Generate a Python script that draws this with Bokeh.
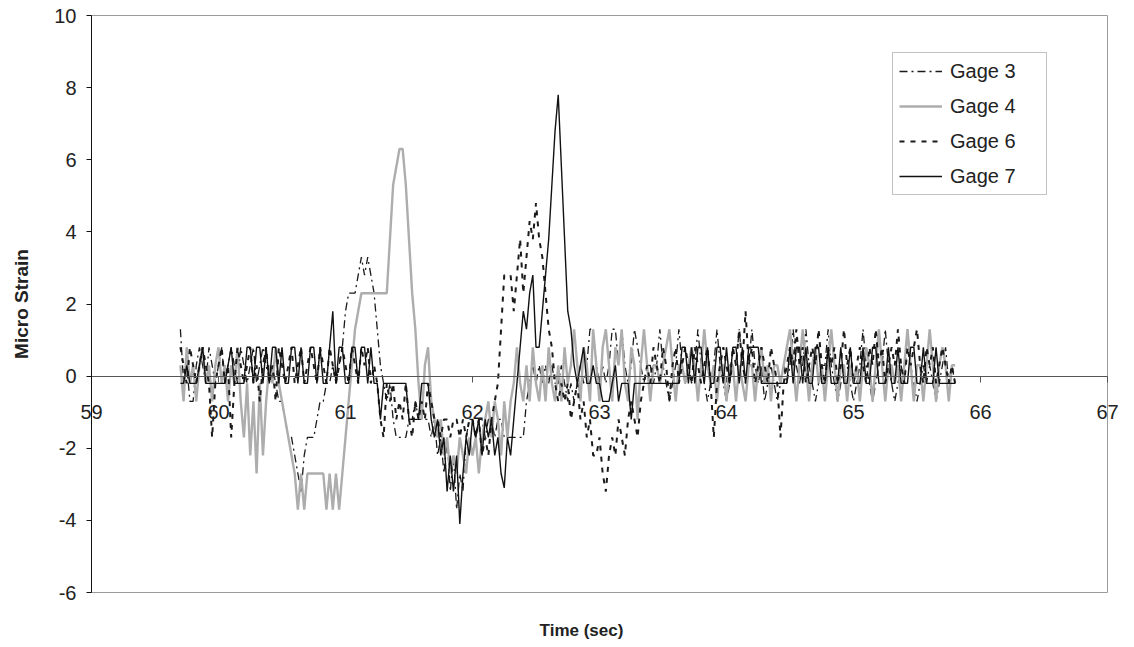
import numpy as np
from bokeh.plotting import figure
from bokeh.models import Legend, LegendItem, FixedTicker, Label, Range1d
from bokeh.embed import file_html
from bokeh.resources import INLINE

# ---- data ----
t_start = 59.7
t_step = 0.025

gage3 = [
    1.3, -0.2, 0.3, -0.7, -0.7, 0.3, 0.8, 0.3, -0.2, 0.8,
    0.3, -0.2, 0.3, 0.8, -0.2, 0.3, 0.8, 0.3, -0.2, 0.8,
    0.3, -0.2, 0.3, 0.8, -0.2, 0.3, 0.8, 0.3, -0.2, 0.3,
    -0.2, -0.7, -0.7, -1.2, -1.7, -1.7, -2.2, -2.7, -3.2, -2.2,
    -1.7, -1.7, -1.7, -1.2, -0.7, -0.7, -0.2, -0.2, 0.3, -0.2,
    0.3, 0.8, 1.8, 2.3, 2.3, 2.3, 2.8, 3.3, 2.8, 3.3,
    2.8, 2.3, 1.3, 0.3, -0.2, -0.7, -0.2, -1.2, -1.7, -1.7,
    -1.7, -1.7, -1.2, -1.2, -0.7, -1.2, -1.2, -1.2, -1.2, -1.7,
    -1.2, -2.2, -1.7, -2.7, -1.7, -3.2, -2.2, -3.7, -2.7, -3.2,
    -1.7, -1.2, -1.2, -1.7, -1.2, -1.2, -1.7, -1.2, -1.2, -1.7,
    -1.2, -1.2, -1.7, -1.7, -1.7, -1.7, -1.7, -1.7, -1.7, -0.7,
    -0.2, 0.3, -0.2, 0.3, -0.2, 0.3, -0.2, 0.3, -0.2, -0.2,
    0.3, -0.2, -0.7, -0.2, -0.7, -0.2, 0.3, -0.2, 0.3, 1.3,
    1.3, 0.3, -0.2, 0.3, -0.2, 0.3, 1.3, 1.3, 0.3, 1.3,
    0.3, -0.2, 0.3, 1.3, 0.8, 0.3, -0.2, 0.3, 0.3, -0.2,
    0.3, 1.3, 0.3, -0.2, -0.7, -0.2, 0.3, 1.3, 0.3, -0.2,
    0.3, -0.2, 0.3, 1.3, 0.3, -0.2, -0.7, -0.2, 0.3, 1.3,
    0.3, -0.2, -0.7, -0.2, 0.3, 0.3, 1.3, 0.3, -0.2, 0.3,
    1.3, 0.3, -0.2, 0.3, -0.7, -0.2, 0.3, -0.2, -0.7, -0.2,
    0.3, -0.2, 0.3, 1.3, 0.3, -0.2, 0.3, 1.3, 0.3, -0.2,
    -0.7, -0.2, 0.3, 0.3, 1.3, 0.3, -0.2, -0.7, -0.2, 0.3,
    0.3, -0.2, -0.7, -0.2, 0.3, 1.3, 0.3, -0.2, -0.7, -0.2,
    0.3, 0.3, 1.3, 0.3, -0.2, -0.7, -0.2, 0.3, -0.2, 1.3,
    0.3, -0.2, -0.7, -0.2, 0.3, -0.2, 0.3, -0.2, -0.7, -0.2,
    0.3, 0.8, -0.2, 0.3, -0.2,
]

gage4 = [
    0.3, -0.7, 0.8, -0.2, 0.3, -0.7, 0.3, 0.8, -0.2, 0.3,
    -0.7, 0.3, 0.8, -0.2, 0.3, -0.7, 0.3, -0.2, 0.8, -0.7,
    -1.7, -0.2, -2.2, -0.7, -2.7, -0.2, -2.2, -0.7, 0.3, -0.2,
    0.8, -0.2, -0.7, -1.2, -1.7, -2.2, -2.7, -3.7, -2.7, -3.7,
    -2.7, -2.7, -2.7, -2.7, -2.7, -2.7, -3.7, -2.7, -3.7, -2.7,
    -3.7, -2.7, -1.7, -0.7, 0.3, 1.3, 1.8, 2.3, 2.3, 2.3,
    2.3, 2.3, 2.3, 2.3, 2.3, 2.3, 3.8, 5.3, 5.8, 6.3,
    6.3, 5.3, 3.8, 2.3, 1.3, -0.2, -1.2, 0.3, 0.8, -0.7,
    -1.2, -1.7, -1.2, -2.2, -1.7, -2.7, -2.2, -2.7, -1.7, -2.2,
    -2.7, -1.7, -2.2, -1.7, -2.7, -1.7, -1.2, -0.7, -1.7, -0.7,
    -1.2, -2.2, -0.7, -1.7, -0.7, -0.2, 0.8, -0.2, -0.7, 0.3,
    -0.7, 0.8, -0.2, -0.7, 0.3, -0.7, 0.8, -0.2, -0.7, 0.3,
    -0.7, 0.8, -0.2, 0.3, 1.3, 0.3, -0.7, 0.8, 0.3, -0.7,
    1.3, 0.3, -0.7, 0.8, 1.3, 0.3, -0.7, 0.8, 0.3, 1.3,
    -0.2, -0.7, 0.8, 0.3, -1.2, 0.3, 1.3, 0.3, -0.7, 0.3,
    0.3, -0.2, 0.3, 0.8, 1.3, 0.3, -0.7, 0.3, 0.3, -0.2,
    0.3, 0.8, 0.3, -0.7, 0.3, 1.3, 0.3, -0.2, 0.3, -0.7,
    0.3, 0.3, -0.7, 0.3, 0.3, -0.7, 0.3, -0.2, -0.7, 0.3,
    0.3, -0.7, 0.3, 0.8, -0.2, 0.3, -0.7, 0.3, 0.3, -0.2,
    0.3, 0.8, 1.3, 0.3, -0.7, 0.3, 1.3, 0.3, -0.7, 0.3,
    0.8, -0.2, 0.3, -0.7, 0.3, 1.3, 0.3, -0.7, 0.3, 0.3,
    -0.7, 0.3, -0.2, 0.3, -0.7, 0.3, 0.8, 0.3, -0.7, 0.3,
    1.3, 0.3, -0.7, 0.3, 0.3, -0.2, 0.3, -0.7, 0.3, 1.3,
    0.3, -0.7, 0.3, 0.3, -0.7, 0.3, 1.3, 0.3, -0.7, 0.3,
    0.8, 0.3, -0.7, 0.3, 0.3,
]

gage6 = [
    0.8, 0.3, -0.2, 0.8, 0.3, -0.2, 0.3, 0.8, 0.3, -0.2,
    -1.7, -0.2, 0.3, 0.8, -0.2, 0.3, -1.7, -0.2, 0.8, 0.3,
    -0.2, 0.3, 0.8, -0.2, 0.3, -0.7, 0.3, 0.8, -0.2, 0.3,
    -0.7, 0.8, 0.3, -0.2, 0.3, 0.8, -0.2, 0.3, 0.8, -0.2,
    0.3, 0.8, 0.3, -0.2, 0.8, 0.3, -0.2, 0.8, 0.3, -0.2,
    0.3, 0.8, 0.3, -0.2, 0.8, 0.3, -0.2, 0.8, 0.3, 0.8,
    -0.2, 0.3, -0.2, -1.2, -1.7, -0.2, -0.7, -0.2, -1.2, -0.7,
    -1.2, -0.2, -1.2, -1.7, -0.7, -1.2, -0.7, -1.2, -0.2, -0.7,
    -1.2, -1.2, -1.7, -1.2, -1.2, -1.7, -1.2, -1.2, -1.7, -1.2,
    -1.7, -1.2, -1.2, -1.7, -1.2, -2.2, -1.7, -2.2, -1.2, -0.7,
    -0.2, 1.3, 2.8, 2.8, 2.8, 1.8, 2.8, 3.8, 2.3, 3.3,
    4.3, 3.8, 4.8, 3.8, 3.3, 2.3, 1.3, 0.8, -0.2, -0.7,
    -0.2, -0.7, -0.2, -1.2, -0.7, -0.2, -1.2, -0.7, -1.7, -1.2,
    -2.2, -2.2, -1.7, -2.7, -3.2, -2.2, -1.7, -2.2, -1.2, -1.7,
    -2.2, -1.2, -0.7, -1.2, -1.7, -0.7, -0.2, 0.3, -0.2, 0.8,
    0.3, -0.2, 0.8, 0.3, -0.7, 0.3, 0.8, -0.2, 0.3, 0.8,
    0.3, -0.2, 0.8, 0.3, -0.2, 0.3, 0.8, -0.2, -1.7, -0.2,
    0.3, 0.8, 0.3, -0.2, 0.8, 0.3, 1.3, 0.3, 1.8, 0.3,
    0.8, -0.2, 0.3, 0.8, 0.3, -0.2, 0.8, 0.3, -0.2, -1.7,
    -0.2, 0.3, 0.8, 0.3, 1.3, 0.3, 0.8, -0.2, 0.3, 0.8,
    0.3, 1.3, 0.3, -0.2, 0.8, 0.3, 0.8, -0.2, 0.3, 1.3,
    0.3, 0.8, -0.2, 0.3, 0.8, 0.3, -0.2, 0.8, 0.3, 1.3,
    0.3, 0.8, -0.2, 0.3, 0.8, 0.3, 1.3, 0.3, -0.2, 0.8,
    0.3, 0.8, 1.3, 0.3, -0.2, 0.8, 0.3, 0.8, -0.2, 0.3,
    0.8, 0.3, -0.2, 0.3, -0.2,
]

gage7 = [
    -0.2, -0.2, 0.3, -0.2, -0.2, -0.2, 0.3, 0.8, -0.2, -0.2,
    -0.2, -0.2, -0.2, -0.2, -0.2, 0.3, 0.8, -0.2, -0.2, -0.2,
    -0.2, 0.8, 0.8, -0.2, 0.8, 0.8, -0.2, 0.8, -0.2, 0.8,
    0.8, -0.2, 0.8, -0.2, -0.2, 0.8, 0.8, -0.2, 0.8, -0.2,
    -0.2, 0.8, 0.8, -0.2, 0.8, -0.2, -0.2, 0.8, 1.8, -0.2,
    0.8, 0.8, -0.2, -0.2, 0.8, 0.8, -0.2, 0.8, 0.8, -0.2,
    0.8, -0.2, -0.2, -1.2, -0.2, -0.2, -0.2, -0.2, -0.2, -0.2,
    -0.2, -0.2, -1.2, -1.2, -1.2, -1.2, -0.2, -0.2, -0.2, -1.2,
    -1.7, -1.2, -2.2, -1.7, -3.2, -2.2, -3.2, -2.2, -4.1, -2.7,
    -1.7, -2.2, -1.2, -1.7, -1.2, -2.2, -1.2, -1.7, -1.2, -2.2,
    -1.7, -2.7, -3.1, -1.7, -2.2, -1.2, -0.2, 0.8, 1.8, 1.3,
    2.3, 2.8, 0.8, 0.8, 1.8, 2.8, 3.8, 5.3, 6.8, 7.8,
    5.8, 3.8, 1.8, 1.3, 0.3, -0.2, 0.3, 0.8, -0.2, -0.2,
    0.3, -0.2, -0.2, -0.7, -0.7, -0.7, -0.2, 0.3, -0.7, -0.2,
    -0.2, -0.2, -1.2, -0.2, -0.2, -0.2, -0.2, -0.2, -0.2, -0.2,
    -0.2, -0.2, -0.2, -0.2, -0.2, -0.2, -0.2, -0.2, 0.8, 0.8,
    -0.2, 0.8, -0.2, 0.8, 0.8, -0.2, 0.8, -0.2, -0.2, 0.8,
    0.8, -0.2, 0.8, -0.2, 0.8, 0.8, -0.2, 0.8, -0.2, 0.8,
    0.8, 0.8, 0.8, -0.2, -0.2, -0.2, -0.2, -0.2, -0.2, -0.2,
    -0.2, -0.2, 0.8, -0.2, 0.8, 0.8, -0.2, 0.8, -0.2, -0.2,
    0.8, 0.8, -0.2, -0.2, 0.8, -0.2, -0.2, -0.2, 0.8, -0.2,
    -0.2, 0.8, -0.2, -0.2, -0.2, 0.8, -0.2, -0.2, 0.8, 0.8,
    -0.2, -0.2, -0.2, 0.8, -0.2, -0.2, 0.8, -0.2, -0.2, -0.2,
    0.8, 0.8, -0.2, -0.2, 0.8, -0.2, -0.2, -0.2, 0.8, -0.2,
    -0.2, -0.2, -0.2, -0.2, -0.2,
]

x_ticks = [59, 60, 61, 62, 63, 64, 65, 66, 67]
y_ticks = [-6, -4, -2, 0, 2, 4, 6, 8, 10]

FONT = "Liberation Sans"
INK = "#1a1a1a"
TXT = "#222222"

# page layout: the plot box sits 91px from the left, 27px from the right,
# 15px from the top and 55px from the bottom of the 1134 x 647 canvas
W, H = 1134, 647
PAD_L, PAD_R, PAD_T, PAD_B = 91, 27, 15, 55
x_lo, x_hi = x_ticks[0], x_ticks[-1]
y_lo, y_hi = y_ticks[0], y_ticks[-1]
ppx = (W - PAD_L - PAD_R) / (x_hi - x_lo)
ppy = (H - PAD_T - PAD_B) / (y_hi - y_lo)


def times(series):
    return t_start + t_step * np.arange(len(series))


p = figure(width=W, height=H,
           x_range=Range1d(x_lo - PAD_L / ppx, x_hi + PAD_R / ppx),
           y_range=Range1d(y_lo - PAD_B / ppy, y_hi + PAD_T / ppy),
           output_backend="svg", toolbar_location=None,
           min_border=0, min_border_left=0, min_border_right=0,
           min_border_top=0, min_border_bottom=0)
p.xgrid.visible = False
p.ygrid.visible = False
p.outline_line_color = None
p.background_fill_color = "white"
p.border_fill_color = "white"

# plot-area border (Excel style, thin gray)
p.quad(left=[x_lo], right=[x_hi], bottom=[y_lo], top=[y_hi],
       fill_color=None, line_color="#9a9a9a", line_width=1)

r3 = p.line(times(gage3), gage3, line_color=INK, line_width=1.3, line_dash="8 4 2 4")
r4 = p.line(times(gage4), gage4, line_color="#adadad", line_width=2.4)
r6 = p.line(times(gage6), gage6, line_color=INK, line_width=2, line_dash="5 6")
r7 = p.line(times(gage7), gage7, line_color="#111111", line_width=1.4)

# x axis crossing at y = 0
ax = p.xaxis[0]
ax.fixed_location = 0
ax.bounds = (x_lo, x_hi)
ax.ticker = FixedTicker(ticks=x_ticks)
ax.major_tick_out = 6
ax.major_tick_in = 0
ax.minor_tick_out = 0
ax.minor_tick_in = 0
ax.axis_line_color = "#555555"
ax.major_tick_line_color = "#555555"
ax.major_label_standoff = 23
ax.major_label_text_font = FONT
ax.major_label_text_font_size = "20px"
ax.major_label_text_color = TXT

# y axis along the left edge of the plot box
ay = p.yaxis[0]
ay.fixed_location = x_lo
ay.bounds = (y_lo, y_hi)
ay.ticker = FixedTicker(ticks=y_ticks)
ay.major_tick_out = 5
ay.major_tick_in = 0
ay.minor_tick_out = 0
ay.minor_tick_in = 0
ay.axis_line_color = "#111111"
ay.major_tick_line_color = "#111111"
ay.major_label_overrides = {v: str(v) for v in y_ticks}
ay.major_label_standoff = 10
ay.major_label_text_font = FONT
ay.major_label_text_font_size = "20px"
ay.major_label_text_color = TXT
ay.axis_label = "Micro Strain"
ay.axis_label_text_font = FONT
ay.axis_label_text_font_size = "19px"
ay.axis_label_text_font_style = "bold"
ay.axis_label_text_color = TXT
ay.axis_label_standoff = 19

p.add_layout(Label(x=float(np.mean(x_ticks)), y=y_lo, x_offset=-18, y_offset=-38,
                   text="Time (sec)", text_align="center", text_baseline="middle",
                   text_font=FONT, text_font_size="17px", text_font_style="bold",
                   text_color=TXT))

legend = Legend(items=[
    LegendItem(label="Gage 3", renderers=[r3]),
    LegendItem(label="Gage 4", renderers=[r4]),
    LegendItem(label="Gage 6", renderers=[r6]),
    LegendItem(label="Gage 7", renderers=[r7]),
], location=(892, 452))
legend.label_text_font = FONT
legend.label_text_font_size = "20px"
legend.label_text_color = TXT
legend.glyph_width = 43
legend.glyph_height = 24
legend.label_height = 24
legend.label_width = 90
legend.spacing = 11
legend.padding = 6
legend.margin = 0
legend.label_standoff = 8
legend.border_line_color = "#888888"
legend.border_line_width = 1
legend.background_fill_color = "white"
legend.background_fill_alpha = 1.0
p.add_layout(legend)

open("out.html", "w").write(file_html(p, INLINE))
